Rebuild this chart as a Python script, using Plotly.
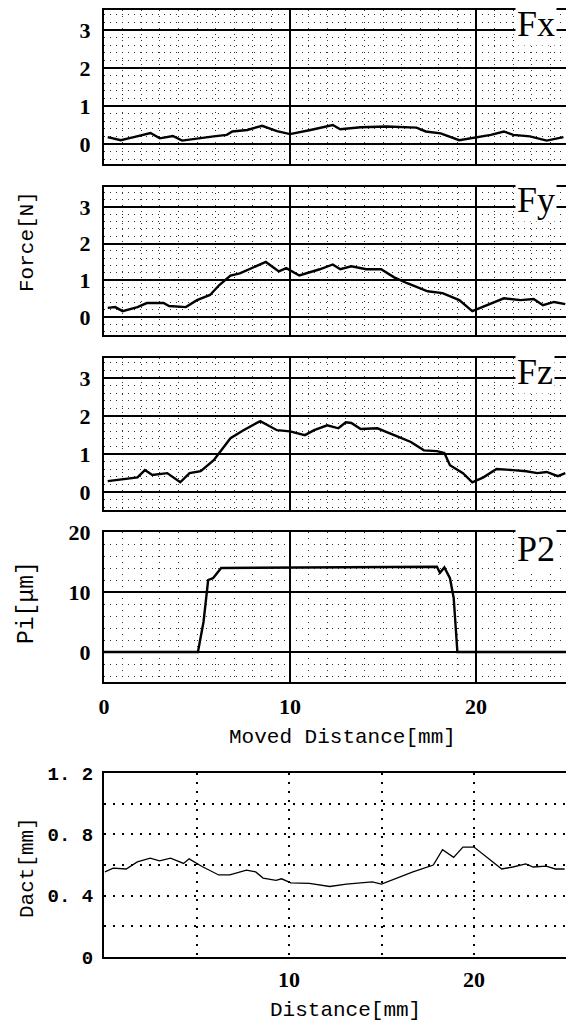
import plotly.graph_objects as go

# ---------------- data ----------------
fx_x = [0.2, 0.9, 1.6, 2.5, 3.0, 3.7, 4.2, 5.0, 5.9, 6.6, 6.9, 7.7, 8.5, 9.3, 10.0, 11.1, 12.3, 12.7,
        13.8, 15.2, 16.8, 17.3, 18.1, 19.1, 20.0, 20.8, 21.5, 22.0, 22.9, 23.8, 24.7]
fx_y = [0.18, 0.10, 0.18, 0.29, 0.15, 0.21, 0.09, 0.15, 0.20, 0.24, 0.33, 0.37, 0.48, 0.34, 0.26, 0.37,
        0.50, 0.39, 0.44, 0.46, 0.43, 0.33, 0.28, 0.10, 0.18, 0.24, 0.33, 0.24, 0.20, 0.09, 0.18]

fy_x = [0.2, 0.6, 1.0, 1.8, 2.3, 3.2, 3.5, 4.4, 5.0, 5.7, 6.2, 6.8, 7.3, 8.0, 8.7, 9.4, 9.8, 10.5, 11.6,
        12.3, 12.7, 13.3, 14.1, 14.9, 15.6, 16.3, 17.4, 18.2, 19.1, 19.8, 20.6, 21.5, 22.4, 23.1, 23.6,
        24.2, 24.8]
fy_y = [0.25, 0.27, 0.16, 0.27, 0.38, 0.38, 0.30, 0.27, 0.46, 0.60, 0.87, 1.13, 1.19, 1.35, 1.50, 1.24,
        1.33, 1.13, 1.30, 1.43, 1.30, 1.38, 1.30, 1.30, 1.08, 0.92, 0.70, 0.65, 0.46, 0.16, 0.32, 0.51,
        0.46, 0.49, 0.32, 0.41, 0.35]

fz_x = [0.2, 1.8, 2.2, 2.6, 3.4, 4.1, 4.6, 5.2, 5.9, 6.8, 7.5, 8.4, 9.3, 10.0, 10.8, 11.3, 12.0, 12.6,
        13.0, 13.3, 13.8, 14.7, 15.6, 16.5, 17.2, 17.9, 18.3, 18.6, 19.3, 19.8, 20.4, 21.1, 22.0, 22.7,
        23.3, 23.8, 24.4, 24.8]
fz_y = [0.29, 0.39, 0.58, 0.45, 0.50, 0.26, 0.50, 0.55, 0.84, 1.42, 1.63, 1.87, 1.63, 1.60, 1.50, 1.63,
        1.76, 1.68, 1.84, 1.82, 1.66, 1.68, 1.50, 1.32, 1.10, 1.08, 1.03, 0.71, 0.50, 0.26, 0.39, 0.61,
        0.58, 0.55, 0.50, 0.53, 0.42, 0.50]

p2_x = [0.0, 5.05, 5.35, 5.6, 5.86, 6.3, 17.9, 18.06, 18.3, 18.6, 18.8, 19.0, 24.9]
p2_y = [0, 0, 5, 12, 12.3, 14, 14.2, 13.2, 14.1, 12.3, 9, 0, 0]

da_x = [0.05, 0.5, 1.2, 1.8, 2.5, 3.0, 3.6, 4.3, 4.6, 5.3, 6.2, 6.8, 7.7, 8.2, 8.6, 9.3, 9.6, 10.1, 11.1,
        12.2, 13.1, 14.5, 15.0, 15.8, 16.7, 17.8, 18.3, 18.9, 19.4, 20.0, 20.9, 21.5, 22.1, 22.8, 23.2,
        23.9, 24.4, 24.9]
da_y = [0.555, 0.58, 0.574, 0.62, 0.645, 0.627, 0.645, 0.61, 0.64, 0.59, 0.535, 0.535, 0.567, 0.555,
        0.515, 0.50, 0.51, 0.483, 0.48, 0.46, 0.475, 0.49, 0.475, 0.515, 0.555, 0.60, 0.70, 0.65, 0.717,
        0.717, 0.633, 0.574, 0.587, 0.607, 0.587, 0.593, 0.574, 0.574]

force_ticks = [0, 1, 2, 3]
p2_ticks = [0, 10, 20]
da_ticks = [0, 0.4, 0.8, 1.2]
da_ticktext = ["0", "0. 4", "0. 8", "1. 2"]
da_xticks = [5, 10, 15, 20]
da_xticktext = ["", "10", "", "20"]
panel_names = ["Fx", "Fy", "Fz", "P2"]

# ---------------- layout helpers ----------------
W, H = 566, 1023
X0 = 104

def ydom(top, bottom):
    return [1 - bottom / H, 1 - top / H]

NUM_FONT = dict(family="Liberation Serif", size=22, color="black", weight="bold")
MONO = "Liberation Mono"
DOTS = "1px,5px"

fig = go.Figure()
series = [(fx_x, fx_y), (fy_x, fy_y), (fz_x, fz_y), (p2_x, p2_y)]
for i, (xs, ys) in enumerate(series, start=1):
    fig.add_trace(go.Scatter(x=xs, y=ys, mode="lines", line=dict(color="black", width=2.4),
                             xaxis=f"x{i if i > 1 else ''}", yaxis=f"y{i if i > 1 else ''}",
                             showlegend=False, hoverinfo="skip"))
fig.add_trace(go.Scatter(x=da_x, y=da_y, mode="lines", line=dict(color="black", width=1.3),
                         xaxis="x5", yaxis="y5", showlegend=False, hoverinfo="skip"))

# panel geometry: (top, bottom, yrange)
panels = [
    (10, 164, [-0.526, 3.526]),
    (187, 335, [-0.49, 3.54]),
    (358, 510, [-0.47, 3.53]),
    (532, 682, [-5.0, 20.0]),
]
xr = [0, (W - X0) / 18.6]
layout = {}
for i, (top, bot, yr) in enumerate(panels, start=1):
    sx = "" if i == 1 else str(i)
    last = (i == 4)
    layout[f"xaxis{sx}"] = dict(
        domain=[X0 / W, 1.0], range=xr, anchor=f"y{sx}", automargin=False,
        showline=True, mirror=True, linecolor="black", linewidth=2,
        showgrid=True, gridcolor="black", gridwidth=1.5, dtick=10, tick0=0,
        minor=dict(dtick=1, showgrid=True, gridcolor="#333", gridwidth=1, griddash=DOTS),
        showticklabels=last, ticks="outside" if last else "", ticklen=0,
        ticklabelstandoff=4, tickfont=NUM_FONT, zeroline=False,
    )
    layout[f"yaxis{sx}"] = dict(
        domain=ydom(top, bot), range=yr, anchor=f"x{sx}", automargin=False,
        showline=True, linecolor="black", linewidth=2,
        showgrid=True, gridcolor="black", gridwidth=1.5,
        tickvals=p2_ticks if last else force_ticks,
        minor=dict(dtick=2 if last else 0.2, tick0=0, showgrid=True, gridcolor="#333",
                   gridwidth=1, griddash=DOTS),
        ticks="outside", ticklen=0, ticklabelstandoff=7, tickfont=NUM_FONT, zeroline=False,
    )

layout["xaxis5"] = dict(
    domain=[X0 / W, 1.0], range=[0, (W - X0) / 18.5], anchor="y5", automargin=False,
    showline=True, mirror=True, linecolor="black", linewidth=2,
    showgrid=True, gridcolor="black", gridwidth=1.5, griddash="2px,7px",
    tickvals=da_xticks, ticktext=da_xticktext,
    ticks="outside", ticklen=0, ticklabelstandoff=2, tickfont=NUM_FONT, zeroline=False,
)
layout["yaxis5"] = dict(
    domain=ydom(773, 957), range=[0, 1.2], anchor="x5", automargin=False,
    showline=True, linecolor="black", linewidth=2,
    showgrid=False, tickvals=da_ticks, ticktext=da_ticktext,
    ticks="outside", ticklen=0, ticklabelstandoff=5,
    tickfont=dict(family=MONO, size=19, color="black", weight="bold"), zeroline=False,
    minor=dict(dtick=0.2, tick0=0, showgrid=True, gridcolor="black", gridwidth=1.5, griddash="2px,7px"),
)

annotations = []
label_tops = [2, 178, 350, 527]
for name, top in zip(panel_names, label_tops):
    annotations.append(dict(text=name, xref="paper", yref="paper", x=515 / W, y=1 - top / H,
                            xanchor="left", yanchor="top", showarrow=False, bgcolor="white",
                            font=dict(family="Liberation Serif", size=36, color="black")))

def paper_text(txt, cx, cy, angle=0, size=21):
    annotations.append(dict(text=txt, xref="paper", yref="paper", x=cx / W, y=1 - cy / H,
                            xanchor="center", yanchor="middle", showarrow=False, textangle=angle,
                            font=dict(family=MONO, size=size, color="black")))

paper_text("Moved Distance[mm]", 342, 737)
paper_text("Distance[mm]", 345, 1010)
paper_text("Force[N]", 27, 242, -90)
paper_text("Pi[μm]", 27, 603, -90, size=23)
paper_text("Dact[mm]", 27, 868, -90)

fig.update_layout(
    width=W, height=H, margin=dict(l=0, r=0, t=0, b=0, autoexpand=False),
    paper_bgcolor="white", plot_bgcolor="white", annotations=annotations, **layout,
)
fig.write_html("out.html")
